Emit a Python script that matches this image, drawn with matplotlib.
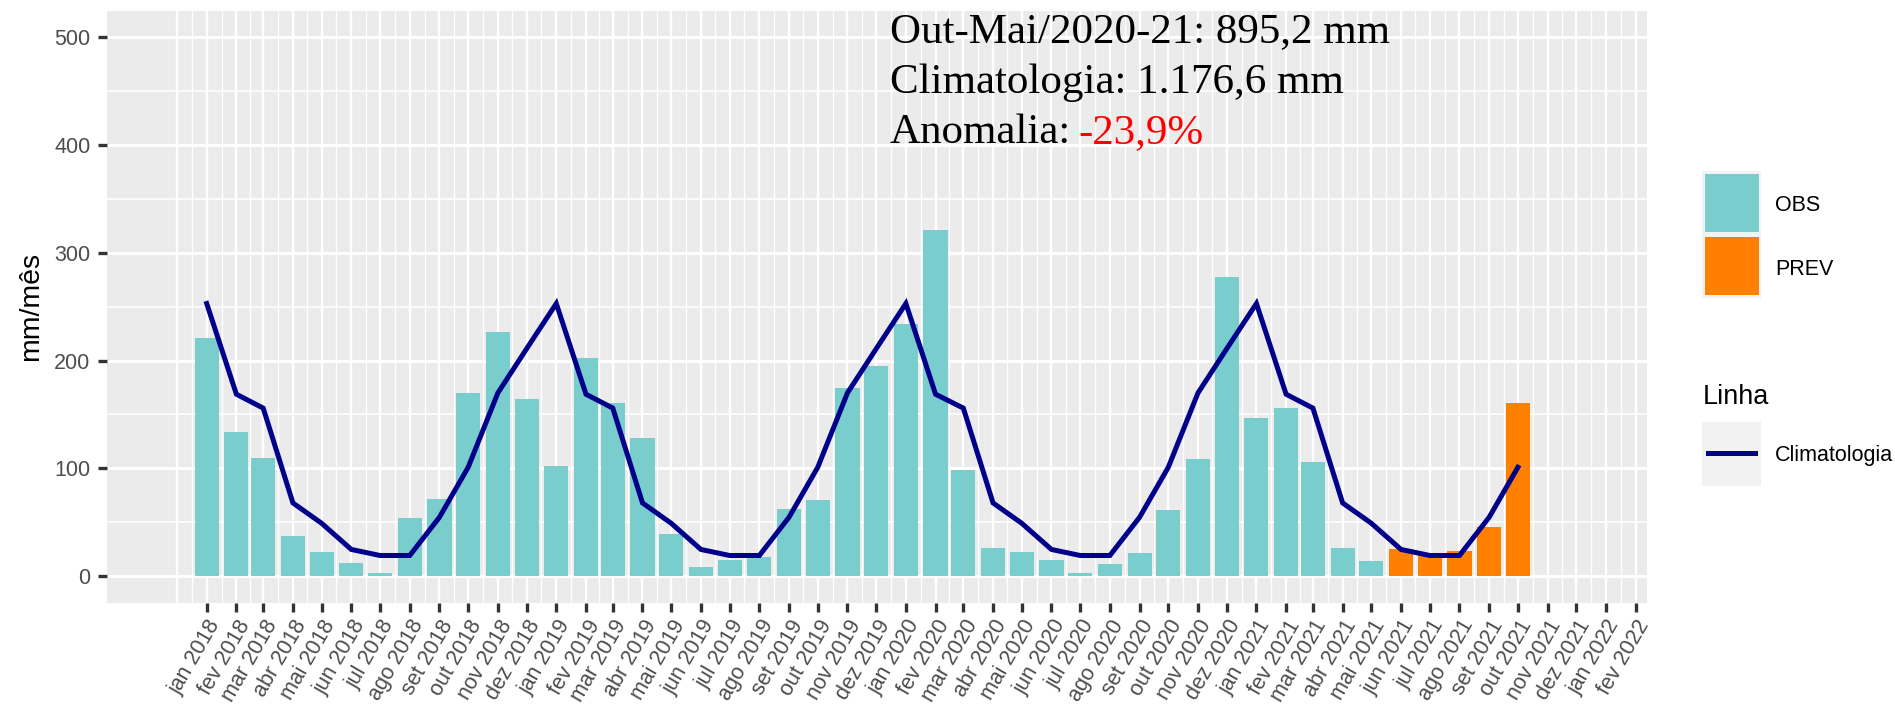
import datetime as dt
import matplotlib
matplotlib.use("Agg")
import matplotlib.pyplot as plt
import matplotlib.dates as mdates
import matplotlib.transforms as mtransforms
from matplotlib.patches import Rectangle
from matplotlib.lines import Line2D

# --- dados ---
MESES = ["jan", "fev", "mar", "abr", "mai", "jun", "jul", "ago", "set", "out", "nov", "dez"]

# chuva observada (jan 2018 - mai 2021), mm/mes
obs = [221.3, 133.7, 109.9, 37.2, 22.0, 12.4, 2.5, 54.2, 71.5, 169.5, 226.4, 164.4,
       102.5, 202.8, 161.0, 128.4, 38.6, 8.3, 14.8, 17.3, 62.7, 70.4, 175.0, 195.0,
       234.0, 321.0, 98.0, 25.6, 22.2, 14.8, 2.5, 10.8, 21.3, 61.4, 109.0, 277.5,
       146.6, 156.2, 105.6, 26.2, 13.9]
# previsao (jun 2021 - out 2021)
prev = [24.7, 21.0, 23.1, 46.0, 160.5]
# climatologia mensal (jan..dez)
clim_mensal = [253.0, 168.8, 155.9, 67.9, 49.0, 24.7, 19.1, 19.1, 54.6, 101.0, 170.0, 211.0]

texto_periodo = "Out-Mai/2020-21: 895,2 mm"
texto_clim = "Climatologia: 1.176,6 mm"
texto_anom = "-23,9%"

# --- configuracao ---
W, H = 1895, 708
TEAL = "#79CDCD"
ORANGE = "#FF7F00"
NAVY = "#00008B"
SANS = "Liberation Sans"
SERIF = "Liberation Serif"


def add_months(d, n):
    y = d.year + (d.month - 1 + n) // 12
    m = (d.month - 1 + n) % 12 + 1
    return dt.date(y, m, 1)


inicio = dt.date(2018, 1, 1)
datas_obs = [add_months(inicio, i) for i in range(len(obs))]
datas_prev = [add_months(inicio, len(obs) + i) for i in range(len(prev))]
datas_clim = datas_obs + datas_prev
clim = [clim_mensal[d.month - 1] for d in datas_clim]

tick_dates = [add_months(inicio, i) for i in range(50)]          # jan 2018 .. fev 2022
tick_labels = [f"{MESES[d.month - 1]} {d.year}" for d in tick_dates]
grid_major = [add_months(inicio, i) for i in range(-1, 50)]      # dez 2017 .. fev 2022


def px(x, y):
    """pixel (from top-left) -> figure fraction"""
    return x / W, 1 - y / H


fig = plt.figure(figsize=(W / 100, H / 100), dpi=100)
ax = fig.add_axes([107 / W, 1 - 603 / H, (1647 - 107) / W, (603 - 10.5) / H])
ax.set_facecolor("#EBEBEB")
for s in ax.spines.values():
    s.set_visible(False)

# grid
gmaj = mdates.date2num(grid_major)
gmin = [(a + b) / 2 for a, b in zip(gmaj[:-1], gmaj[1:])]
xt = ax.get_xaxis_transform()
ax.vlines(gmin, 0, 1, transform=xt, color="white", lw=1.0, zorder=0.5)
ax.vlines(gmaj, 0, 1, transform=xt, color="white", lw=1.7, zorder=0.6)
for v in range(50, 500, 100):
    ax.axhline(v, color="white", lw=1.15, zorder=0.5)
for v in range(0, 501, 100):
    ax.axhline(v, color="white", lw=2.1, zorder=0.6)

largura = 25.2
ax.bar(datas_obs, obs, width=largura, color=TEAL, zorder=2)
ax.bar(datas_prev, prev, width=largura, color=ORANGE, zorder=2)
ax.plot(datas_clim, clim, color=NAVY, lw=3.6, zorder=3, solid_joinstyle="miter")

x0 = mdates.date2num(inicio)
ax.set_xlim(x0 - 104.1, x0 + 1503.8)
ax.set_ylim(-25, 525)

ax.set_xticks(mdates.date2num(tick_dates))
ax.set_xticklabels(tick_labels, rotation=60, ha="right", va="top", rotation_mode="anchor",
                   fontsize=15.5, color="#4D4D4D", family=SANS)
# desloca os rotulos do eixo x como no ggplot (hjust=1, vjust=1)
shift = mtransforms.ScaledTranslation(13 / 100, -10 / 100, fig.dpi_scale_trans)
for lbl in ax.get_xticklabels():
    lbl.set_transform(lbl.get_transform() + shift)

ax.set_yticks(range(0, 501, 100))
ax.set_yticklabels([str(v) for v in range(0, 501, 100)], fontsize=15.5, color="#4D4D4D",
                   family=SANS)
ax.tick_params(axis="both", length=6.5, width=2.4, color="#333333")
ax.tick_params(axis="x", pad=3)
ax.tick_params(axis="y", pad=5.5)

fig.text(*px(31, 306), "mm/mês", rotation=90, ha="center", va="center",
         fontsize=20.5, family=SANS)

# anotacao
fig.text(*px(890, 41.7), texto_periodo, fontsize=31, family=SERIF, va="baseline")
fig.text(*px(890, 92.7), texto_clim, fontsize=31, family=SERIF, va="baseline")
t_anom = fig.text(*px(890, 143.3), "Anomalia:", fontsize=31, family=SERIF, va="baseline")
ax.annotate(texto_anom, xy=(1, 0), xycoords=t_anom, xytext=(5, 0),
            textcoords="offset points", ha="left", va="bottom",
            fontsize=31, family=SERIF, color="red", annotation_clip=False)

# legenda
def rect_px(x1, y1, x2, y2, color):
    fx, fy = px(x1, y2)
    fig.add_artist(Rectangle((fx, fy), (x2 - x1) / W, (y2 - y1) / H,
                             transform=fig.transFigure, color=color, lw=0))


rect_px(1702.3, 170.7, 1761, 297.7, "#F2F2F2")
rect_px(1705, 174, 1759, 231.7, TEAL)
rect_px(1705, 237.3, 1759, 295.3, ORANGE)
fig.text(*px(1775, 211), "OBS", fontsize=15.5, family=SANS, va="baseline")
fig.text(*px(1775, 275), "PREV", fontsize=15.5, family=SANS, va="baseline")

fig.text(*px(1702.7, 404), "Linha", fontsize=19.5, family=SANS, va="baseline")
rect_px(1702.3, 421.7, 1761, 485.7, "#F2F2F2")
lx1, ly = px(1708, 453.3)
lx2, _ = px(1755, 453.3)
fig.add_artist(Line2D([lx1, lx2], [ly, ly], transform=fig.transFigure, color=NAVY, lw=3.6))
fig.text(*px(1775, 461), "Climatologia", fontsize=15.5, family=SANS, va="baseline")

fig.savefig("out.png", dpi=100)
